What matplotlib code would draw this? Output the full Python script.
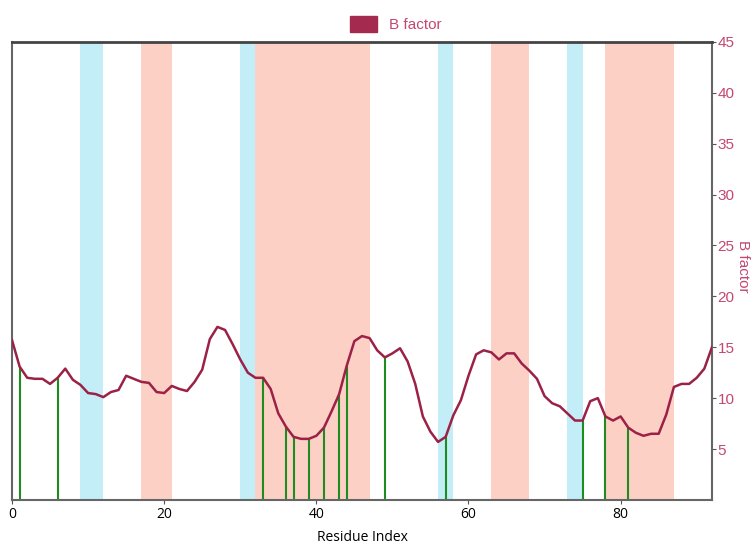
import numpy as np
import matplotlib.pyplot as plt

# B factor per residue
residues = list(range(93))
bfactor = [15.7, 13.1, 12.0, 11.9, 11.9, 11.4, 12.0, 12.9, 11.8, 11.3,
           10.5, 10.4, 10.1, 10.6, 10.8, 12.2, 11.9, 11.6, 11.5, 10.6,
           10.5, 11.2, 10.9, 10.7, 11.6, 12.8, 15.8, 17.0, 16.7, 15.3,
           13.8, 12.5, 12.0, 12.0, 10.9, 8.5, 7.2, 6.2, 6.0, 6.0,
           6.3, 7.1, 8.7, 10.4, 13.2, 15.6, 16.1, 15.9, 14.7, 14.0,
           14.4, 14.9, 13.6, 11.4, 8.2, 6.7, 5.7, 6.2, 8.3, 9.8,
           12.2, 14.3, 14.7, 14.5, 13.8, 14.4, 14.4, 13.4, 12.7, 11.9,
           10.2, 9.5, 9.2, 8.5, 7.8, 7.8, 9.7, 10.0, 8.2, 7.8,
           8.2, 7.1, 6.6, 6.3, 6.5, 6.5, 8.4, 11.1, 11.4, 11.4,
           12.0, 12.9, 15.0]

# marked residues (green stems)
marked = [1, 6, 33, 36, 37, 39, 41, 43, 44, 49, 57, 75, 78, 81]

# shaded spans
blue_spans = [(9, 12), (30, 32), (56, 58), (73, 75)]
pink_spans = [(17, 21), (32, 47), (63, 68), (78, 87)]

line_col = "#9b2246"
text_col = "#c4476f"

fig = plt.figure(figsize=(7.51, 5.44), dpi=100)
ax = fig.add_axes([0.016, 0.081, 0.932, 0.842])

for a, b in blue_spans:
    ax.axvspan(a, b, color="#c3eef8", lw=0, zorder=0)
for a, b in pink_spans:
    ax.axvspan(a, b, color="#fdd0c5", lw=0, zorder=0)

for r in marked:
    ax.vlines(r, 0, bfactor[r], color="#1e8c1e", lw=1.5, zorder=2)

ax.plot(residues, bfactor, color=line_col, lw=1.8, zorder=3, label="B factor")

ax.set_xlim(0, 92)
ax.set_ylim(0, 45)
ax.set_xticks([0, 20, 40, 60, 80])
ax.set_xticklabels(["0", "20", "40", "60", "80"], fontfamily="Open Sans", fontsize=10)
ax.set_xlabel("Residue Index", fontfamily="Open Sans", fontsize=10, labelpad=6)

ax.yaxis.tick_right()
ax.yaxis.set_label_position("right")
ax.set_yticks([5, 10, 15, 20, 25, 30, 35, 40, 45])
ax.tick_params(axis="y", colors="#555555", labelcolor=text_col, labelsize=11, length=3, pad=1)
for t in ax.get_yticklabels():
    t.set_fontfamily("Liberation Sans")
ax.tick_params(axis="x", length=3, colors="#555555", labelcolor="black", pad=2)
ax.set_ylabel("B factor", color=text_col, fontsize=11, fontfamily="Liberation Sans",
              rotation=270, va="center", ha="center")
ax.yaxis.set_label_coords(1.045, 0.51)

for side in ["left", "right", "bottom"]:
    ax.spines[side].set_color("#666666")
    ax.spines[side].set_linewidth(1.5)
ax.spines["top"].set_color("#444444")
ax.spines["top"].set_linewidth(2)

handles = [plt.Rectangle((0, 0), 1, 1, color="#a52a50")]
leg = fig.legend(handles, ["B factor"], loc="center", bbox_to_anchor=(0.527, 0.955),
                 frameon=False, handlelength=1.8, handleheight=1.2,
                 prop={"family": "Liberation Sans", "size": 11})
for t in leg.get_texts():
    t.set_color(text_col)

plt.savefig("out.png", dpi=100)
